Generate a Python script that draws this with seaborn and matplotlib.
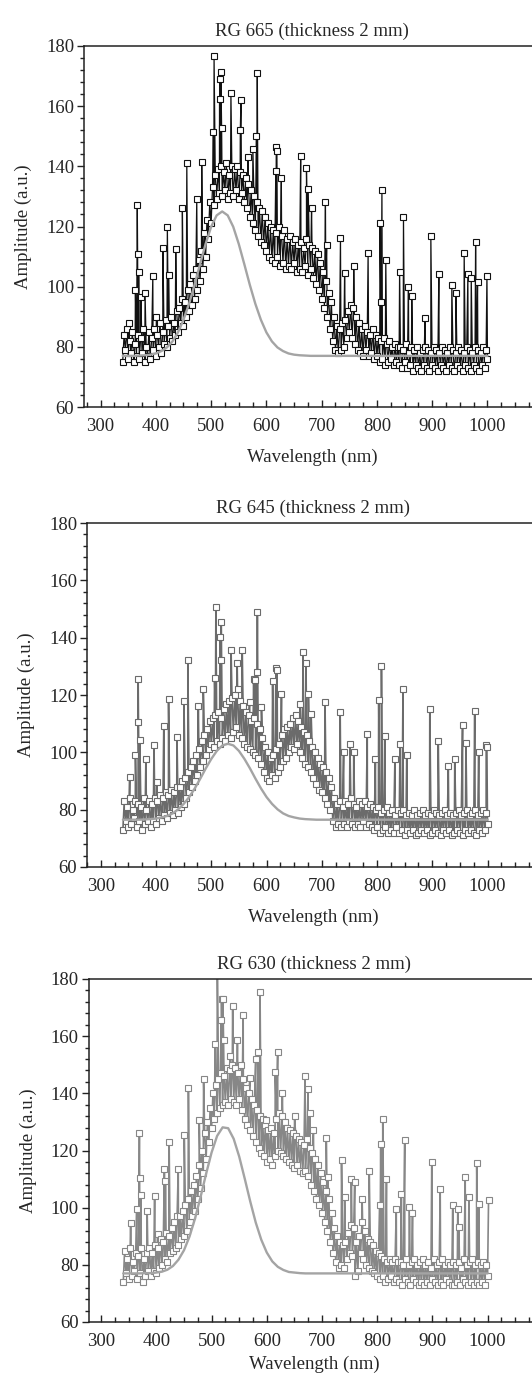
import numpy as np
import pandas as pd
import matplotlib
matplotlib.use("Agg")
from matplotlib import pyplot as plt
from matplotlib.ticker import MultipleLocator
import seaborn as sns

# wavelength grid of the dense measured band (nm)
band_nm = np.arange(340, 1000.1, 2.5)

# ---- RG 665 ----
rg665_band = [75, 84, 79, 86, 76, 82, 78, 85, 75, 81, 77, 84, 76, 83, 78, 86, 75, 80, 77, 85,
              76, 83, 79, 86, 77, 84, 80, 88, 78, 85, 81, 89, 80, 87, 83, 90, 82, 88, 84, 92,
              85, 93, 88, 96, 87, 95, 90, 99, 92, 101, 94, 104, 96, 106, 99, 109, 102, 112, 106, 118,
              110, 122, 116, 128, 121, 133, 127, 137, 129, 139, 131, 140, 130, 138, 132, 141, 129, 137, 131, 140,
              130, 139, 132, 140, 129, 138, 131, 137, 128, 136, 126, 134, 123, 132, 121, 130, 119, 128, 117, 126,
              115, 125, 114, 123, 112, 121, 110, 120, 109, 119, 108, 118, 110, 120, 107, 117, 108, 119, 106, 116,
              107, 117, 106, 115, 108, 116, 105, 114, 106, 115, 105, 113, 107, 116, 104, 114, 106, 113, 103, 112,
              101, 111, 99, 108, 96, 105, 93, 102, 90, 98, 86, 95, 82, 90, 79, 87, 78, 86, 79, 88,
              80, 89, 83, 92, 85, 94, 83, 93, 81, 90, 79, 88, 78, 86, 77, 87, 79, 85, 77, 84,
              78, 86, 76, 84, 77, 83, 75, 82, 76, 83, 74, 81, 75, 82, 76, 80, 74, 81, 75, 80,
              74, 80, 73, 79, 75, 81, 73, 78, 74, 80, 72, 79, 74, 80, 73, 78, 72, 79, 74, 80,
              73, 79, 72, 78, 74, 80, 73, 79, 72, 78, 74, 80, 73, 79, 72, 78, 74, 80, 73, 79,
              72, 78, 74, 80, 73, 79, 72, 78, 74, 80, 73, 79, 72, 78, 74, 80, 73, 79, 72, 78,
              74, 80, 73, 79, 76]
rg665_spike_nm = [351, 363, 366.4, 367, 369.5, 373, 380.5, 394.5, 401, 412.8,
                  420.8, 423, 436, 448, 456, 474, 483, 504, 505.3, 515.2,
                  516.1, 517.6, 519, 535.8, 552.8, 554, 567, 575.5, 582, 583.5,
                  617, 617.8, 619, 627, 662, 672.5, 675.6, 681.7, 706.8, 709,
                  734, 741.5, 758, 784, 805.5, 807, 809, 816, 841, 848,
                  857, 863, 887, 897.5, 912, 935.5, 943, 957.8, 964.5, 970.6,
                  978.5, 982, 999]
rg665_spike_amp = [88, 99, 127, 111, 105, 96.7, 97.8, 103.7, 90, 112.8,
                   119.9, 104, 112.4, 126, 141, 129.3, 141.3, 151.5, 176.7, 162.3,
                   168.9, 171.3, 152.6, 164.3, 152.2, 162, 143, 145.8, 150, 170.9,
                   138.6, 146.4, 145, 136, 143.5, 139.4, 132.4, 126.3, 128, 114,
                   116.3, 104.5, 107, 111.1, 121.1, 95, 132, 108.7, 105, 123,
                   100, 97, 89.5, 116.9, 104.3, 100.4, 97.8, 111.2, 104.3, 102.8,
                   115, 101.7, 103.6]
rg665_fit_nm = [340, 350, 360, 370, 380, 390, 400, 410, 420, 430,
                440, 450, 460, 470, 480, 490, 500, 510, 520, 530,
                540, 550, 560, 570, 580, 590, 600, 610, 620, 630,
                640, 650, 660, 670, 680, 690, 700, 1000]
rg665_fit = [77.0, 77.0, 77.0, 77.1, 77.2, 77.4, 77.8, 78.6, 79.8, 81.8,
             84.8, 89.0, 94.3, 100.6, 107.5, 114.2, 119.9, 123.7, 125.0, 123.7,
             119.9, 114.2, 107.5, 100.6, 94.3, 89.0, 84.8, 81.8, 79.8, 78.6,
             77.8, 77.4, 77.2, 77.1, 77.0, 77.0, 77.0, 77.0]

# ---- RG 645 ----
rg645_band = [73, 83, 76, 81, 74, 84, 75, 80, 77, 83, 74, 82, 76, 81, 73, 84, 75, 80, 76, 83,
              74, 82, 76, 84, 75, 83, 77, 85, 76, 84, 78, 86, 77, 85, 79, 87, 78, 86, 80, 88,
              79, 88, 81, 90, 82, 91, 84, 93, 86, 95, 88, 97, 90, 99, 92, 101, 95, 104, 97, 106,
              99, 108, 101, 111, 103, 112, 102, 113, 104, 114, 103, 112, 105, 115, 104, 117, 106, 118, 105, 119,
              107, 120, 109, 122, 106, 118, 105, 116, 103, 114, 102, 113, 101, 111, 100, 112, 99, 110, 98, 108,
              96, 105, 93, 102, 91, 100, 90, 98, 92, 99, 91, 101, 93, 103, 95, 106, 97, 108, 98, 109,
              100, 110, 102, 112, 101, 113, 103, 111, 100, 109, 98, 107, 96, 106, 95, 104, 93, 102, 91, 100,
              89, 98, 87, 96, 86, 95, 84, 93, 82, 91, 80, 88, 76, 84, 74, 82, 75, 83, 74, 81,
              75, 83, 74, 82, 76, 84, 75, 82, 74, 81, 75, 83, 74, 82, 76, 83, 74, 81, 75, 82,
              74, 81, 73, 80, 74, 81, 72, 79, 73, 80, 74, 81, 72, 79, 73, 80, 72, 78, 74, 80,
              72, 79, 73, 80, 71, 78, 73, 79, 72, 78, 73, 80, 71, 78, 72, 79, 73, 80, 72, 78,
              73, 79, 71, 78, 72, 80, 73, 79, 72, 78, 71, 79, 73, 80, 72, 78, 73, 79, 71, 78,
              72, 79, 73, 80, 72, 78, 71, 79, 73, 80, 72, 78, 73, 79, 72, 80, 71, 78, 73, 79,
              72, 80, 73, 79, 75]
rg645_spike_nm = [352.3, 362.7, 367.6, 368.2, 370.6, 381.6, 396.3, 401.2, 414, 422.6,
                  437.9, 450.5, 457.5, 476.5, 485.5, 505.9, 508.3, 515.6, 517.4, 518,
                  535.8, 546.8, 556, 569.4, 576.7, 579.8, 582.8, 583.4, 590.8, 611,
                  617, 619, 627, 661, 666, 671.5, 675.8, 680.7, 705.8, 733.3,
                  739.5, 751, 757.8, 782.3, 797, 803, 808, 814, 832.4, 841.6,
                  847, 853.8, 895.5, 910.8, 929, 940.7, 954.8, 960.9, 976.8, 984,
                  997.6, 998.8]
rg645_spike_amp = [91.4, 99, 125.5, 110.6, 104.2, 97.8, 102.7, 89.7, 109.3, 118.5,
                   105.3, 117.9, 132.2, 116.2, 122.2, 125.8, 150.7, 140.2, 132.1, 145.3,
                   135.6, 131, 135.6, 117.6, 125.5, 125.1, 128, 148.8, 115.8, 125,
                   129.5, 128.6, 120.5, 117, 135, 131.2, 120.5, 113.5, 117.6, 114,
                   100.1, 103, 100.1, 106.5, 97.8, 118.1, 130.2, 105.8, 97.8, 103,
                   122.1, 99, 115.2, 103.8, 95.1, 97.6, 109.4, 103.3, 114.4, 100,
                   102.4, 101.9]
rg645_fit_nm = rg665_fit_nm
rg645_fit = [76.5, 76.5, 76.5, 76.5, 76.6, 76.7, 76.9, 77.3, 77.8, 78.7,
             80.1, 82.0, 84.4, 87.4, 90.8, 94.4, 97.7, 100.5, 102.4, 103.0,
             102.4, 100.5, 97.7, 94.4, 90.8, 87.4, 84.4, 82.0, 80.1, 78.7,
             77.8, 77.3, 76.9, 76.7, 76.6, 76.5, 76.5, 76.5]

# ---- RG 630 ----
rg630_band = [74, 85, 77, 82, 75, 86, 76, 81, 78, 84, 75, 83, 77, 86, 74, 82, 76, 84, 78, 86,
              76, 84, 78, 87, 77, 86, 79, 89, 80, 88, 82, 91, 81, 90, 84, 93, 85, 95, 86, 97,
              87, 97, 89, 99, 90, 101, 92, 103, 95, 106, 97, 108, 99, 111, 103, 115, 107, 120, 112, 126,
              117, 130, 123, 135, 128, 140, 131, 143, 133, 145, 135, 147, 136, 146, 137, 149, 136, 148, 138, 150,
              137, 149, 136, 147, 138, 150, 134, 145, 131, 142, 129, 140, 127, 138, 125, 136, 123, 134, 121, 132,
              119, 131, 118, 129, 116, 127, 117, 128, 115, 126, 118, 131, 120, 133, 119, 132, 118, 130, 117, 128,
              116, 127, 115, 126, 114, 125, 115, 124, 113, 123, 112, 122, 113, 124, 111, 121, 108, 119, 106, 117,
              103, 115, 101, 112, 98, 109, 95, 106, 92, 103, 88, 98, 84, 93, 81, 90, 79, 88, 80, 87,
              79, 88, 82, 91, 84, 94, 83, 93, 76, 88, 78, 90, 84, 95, 82, 92, 80, 89, 79, 88,
              78, 87, 77, 85, 76, 84, 75, 83, 76, 82, 74, 81, 75, 82, 76, 81, 74, 82, 75, 81,
              74, 81, 73, 80, 75, 82, 74, 80, 73, 81, 75, 82, 74, 80, 73, 81, 74, 82, 73, 80,
              74, 81, 73, 79, 75, 82, 74, 80, 73, 81, 74, 82, 73, 80, 75, 81, 74, 80, 73, 81,
              73, 80, 74, 81, 73, 79, 75, 82, 74, 80, 73, 81, 74, 82, 73, 80, 74, 81, 73, 80,
              74, 81, 73, 80, 76]
rg630_spike_nm = [353.3, 364.3, 369.2, 369.6, 372.3, 383.3, 396.8, 402.3, 414.5, 416.4,
                  423.1, 439.6, 450.5, 458, 477.6, 485.5, 506.4, 510.3, 517.4, 518,
                  520.4, 521.7, 533.9, 538.2, 546.8, 557.2, 569.4, 579.9, 584.8, 587.8,
                  598.8, 615.3, 619.7, 628.2, 650.3, 669.3, 674.8, 677.8, 684.6, 707.8,
                  710.3, 735.4, 741, 753.2, 759.3, 772.7, 785.6, 804.6, 806.4, 810.1,
                  816.8, 834.6, 843.8, 849.9, 858.5, 864, 898.9, 914.2, 936.9, 946,
                  947.9, 959.5, 966.2, 980.3, 984.6, 1001.8]
rg630_spike_amp = [94.5, 99.7, 126, 110.3, 104.3, 98.7, 104.2, 90.7, 113.4, 109.3,
                   123, 113.4, 125.3, 142, 130.5, 145, 157.3, 190, 165.7, 173,
                   173, 158.7, 152.9, 170.7, 158.5, 167.3, 145.3, 152, 154.6, 175.6,
                   130.7, 147.6, 154.6, 140, 131.9, 146.1, 141.4, 133, 127.2, 124.3,
                   110.8, 116.6, 103.8, 109.9, 109.1, 103.2, 113, 100.9, 122.2, 130.9,
                   109.9, 99.4, 104.8, 123.7, 100.1, 98, 115.9, 106.4, 100.8, 99.7,
                   93.3, 110.6, 103.8, 115.5, 101.3, 102.7]
rg630_fit_nm = rg665_fit_nm
rg630_fit = [77.0, 77.0, 77.0, 77.0, 77.1, 77.1, 77.3, 77.6, 78.3, 79.6,
             81.8, 85.1, 89.9, 96.2, 103.7, 111.8, 119.3, 125.1, 128.1, 127.8,
             124.1, 117.9, 110.2, 102.2, 94.8, 88.8, 84.3, 81.2, 79.3, 78.2,
             77.5, 77.3, 77.1, 77.0, 77.0, 77.0, 77.0, 77.0]

titles = ["RG 665 (thickness 2 mm)", "RG 645 (thickness 2 mm)", "RG 630 (thickness 2 mm)"]

W, H = 532, 1375
FS = 13.5


def draw_panel(box, xlim, title, band, spike_nm, spike_amp, fit_nm, fit_amp,
               color, lw, msize, xlabelpad=9.5):
    left, top, right, bottom = box
    ax = fig.add_axes([left / W, 1 - bottom / H, (right - left) / W, (bottom - top) / H])

    n = min(len(band_nm), len(band))
    data = pd.DataFrame({"nm": np.concatenate([band_nm[:n], spike_nm]),
                         "amp": np.concatenate([band[:n], spike_amp])}).sort_values("nm")
    sns.lineplot(data=data, x="nm", y="amp", ax=ax, estimator=None, sort=True,
                 color=color, lw=lw, marker="s", markersize=msize,
                 markerfacecolor="white", markeredgecolor=color, markeredgewidth=0.8)
    sns.lineplot(x=fit_nm, y=fit_amp, ax=ax, estimator=None, color="#a4a4a4", lw=1.7)

    ax.set_xlim(*xlim)
    ax.set_ylim(60, 180)
    ax.xaxis.set_major_locator(MultipleLocator(100))
    ax.xaxis.set_minor_locator(MultipleLocator(25))
    ax.yaxis.set_major_locator(MultipleLocator(20))
    ax.yaxis.set_minor_locator(MultipleLocator(4))
    ax.tick_params(axis="x", which="both", direction="in", top=False, labelsize=FS,
                   color="#222222", pad=8)
    ax.tick_params(axis="x", which="major", length=5, width=1)
    ax.tick_params(axis="x", which="minor", length=3.5, width=1)
    ax.tick_params(axis="y", which="both", direction="out", right=False, labelsize=FS,
                   color="#222222", pad=2)
    ax.tick_params(axis="y", which="major", length=5, width=1)
    ax.tick_params(axis="y", which="minor", length=3, width=1)
    for s in ax.spines.values():
        s.set_color("#222222")
        s.set_linewidth(1.1)
    ax.spines["right"].set_visible(False)

    ax.set_title(title, fontsize=FS, pad=7)
    ax.set_xlabel("Wavelength (nm)", fontsize=FS, labelpad=xlabelpad)
    ax.set_ylabel("Amplitude (a.u.)", fontsize=FS, labelpad=10)
    ax.grid(False)
    return ax


sns.set_theme(style="ticks")
plt.rcParams["font.family"] = ["Liberation Serif", "DejaVu Serif"]

fig = plt.figure(figsize=(W / 100, H / 100), dpi=100)
fig.patch.set_facecolor("white")

draw_panel((84, 46, 540, 407), (270, 1095), titles[0], rg665_band,
           rg665_spike_nm, rg665_spike_amp, rg665_fit_nm, rg665_fit, "#111111", 0.9, 4.4)
draw_panel((87, 523, 540, 867), (275, 1095), titles[1], rg645_band,
           rg645_spike_nm, rg645_spike_amp, rg645_fit_nm, rg645_fit, "#6b6b6b", 1.2, 4.0)
draw_panel((88.5, 979, 540, 1322), (277, 1095), titles[2], rg630_band,
           rg630_spike_nm, rg630_spike_amp, rg630_fit_nm, rg630_fit, "#878787", 1.2, 4.0,
           xlabelpad=4)

fig.savefig("out.png", dpi=100)
